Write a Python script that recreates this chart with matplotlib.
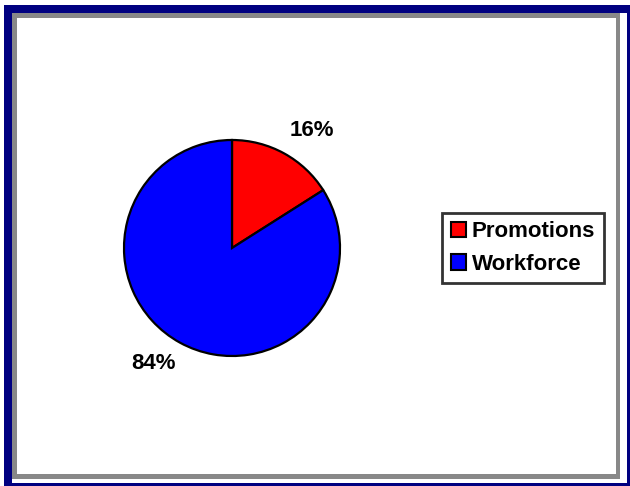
import matplotlib
matplotlib.use("Agg")
import matplotlib.pyplot as plt
from matplotlib.patches import Rectangle, Patch

categories = ["Promotions", "Workforce"]
values = [16, 84]
colors = ["#FF0000", "#0000FF"]
pct_labels = ["16%", "84%"]

W, H = 630, 486
fig = plt.figure(figsize=(W / 100, H / 100), dpi=100)
fig.patch.set_facecolor("white")

def px_rect(x0, y0, x1, y1, color):
    fig.patches.append(Rectangle((x0 / W, 1 - y1 / H), (x1 - x0) / W, (y1 - y0) / H,
                                 transform=fig.transFigure, facecolor=color,
                                 edgecolor="none", zorder=0, antialiased=False))

navy = "#000080"
gray = "#888888"
# outer navy frame
px_rect(4, 5, 630, 13, navy)
px_rect(4, 5, 12, 486, navy)
px_rect(627, 5, 630, 486, navy)
px_rect(4, 483, 630, 486, navy)
# inner gray frame
px_rect(12, 13, 620, 18, gray)
px_rect(12, 13, 17, 479, gray)
px_rect(616, 13, 620, 479, gray)
px_rect(12, 474, 620, 479, gray)

cx, cy, r = 232, 248, 108
ax = fig.add_axes([(cx - r) / W, 1 - (cy + r) / H, 2 * r / W, 2 * r / H])
wedges, _ = ax.pie(values, colors=colors, startangle=90, counterclock=False,
                   radius=1, wedgeprops=dict(edgecolor="black", linewidth=1.6))
ax.set_xlim(-1, 1)
ax.set_ylim(-1, 1)
ax.set_aspect("equal")
ax.axis("off")

label_pos = [(0.74, 1.09), (-0.73, -1.07)]
for txt, (lx, ly) in zip(pct_labels, label_pos):
    ax.text(lx, ly, txt, ha="center", va="center", fontsize=16, fontweight="bold",
            family="Liberation Sans", clip_on=False)

handles = [Patch(facecolor=c, edgecolor="black", linewidth=1.5) for c in colors]
leg = fig.legend(handles, categories, loc="center left",
                 bbox_to_anchor=(442 / W, 1 - 248 / H),
                 prop=dict(family="Liberation Sans", weight="bold", size=16),
                 frameon=True, fancybox=False, edgecolor="black",
                 handlelength=0.7, handleheight=0.7, handletextpad=0.25,
                 borderpad=0.4, labelspacing=0.5, borderaxespad=0)
leg.get_frame().set_linewidth(2)

fig.savefig("out.png", dpi=100, facecolor="white")
